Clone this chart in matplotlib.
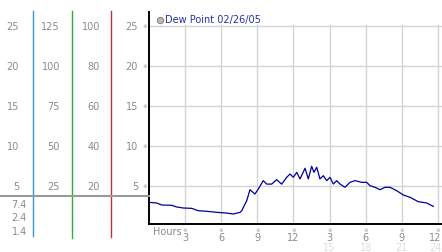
import matplotlib
matplotlib.use("Agg")
import matplotlib.pyplot as plt
from matplotlib.lines import Line2D

# ---- data ----
hours = [0.0, 0.64, 1.05, 1.89, 2.3, 2.85, 3.55, 4.1, 4.79, 5.62, 6.45, 7.0, 7.56, 7.7,
         8.11, 8.39, 8.8, 9.08, 9.49, 9.78, 10.19, 10.6, 11.02, 11.44, 11.71, 11.99,
         12.27, 12.54, 12.96, 13.23, 13.51, 13.7, 13.93, 14.2, 14.48, 14.76, 15.03,
         15.31, 15.59, 15.86, 16.28, 16.69, 17.11, 17.67, 18.08, 18.36, 18.77, 19.19,
         19.6, 20.02, 20.57, 21.12, 21.68, 22.37, 23.06, 23.61]
dew = [2.92, 2.84, 2.59, 2.55, 2.34, 2.21, 2.17, 1.87, 1.8, 1.67, 1.58, 1.46, 1.67, 1.87,
       3.1, 4.5, 3.96, 4.59, 5.63, 5.2, 5.2, 5.75, 5.2, 6.05, 6.46, 6.05,
       6.67, 5.84, 7.18, 5.84, 7.43, 6.67, 7.3, 5.84, 6.25, 5.63, 6.05,
       5.21, 5.63, 5.21, 4.8, 5.42, 5.63, 5.42, 5.42, 5.0, 4.8, 4.5,
       4.8, 4.8, 4.38, 3.84, 3.55, 3.0, 2.84, 2.42]
legend_label = "Dew Point 02/26/05"
y_ticks = [5, 10, 15, 20, 25]
x_ticks = [3, 6, 9, 12, 15, 18, 21, 24]
x_labels_top = ["3", "6", "9", "12", "3", "6", "9", "12"]
x_labels_bot = ["15", "18", "21", "24"]
col1 = ["5", "10", "15", "20", "25"]
col2 = ["25", "50", "75", "100", "125"]
col3 = ["20", "40", "60", "80", "100"]
col4 = ["5", "10", "15", "20", "25"]
extra = ["7.4", "2.4", "1.4"]

W, H = 442, 253
fig = plt.figure(figsize=(W / 100, H / 100), dpi=100)
fig.patch.set_facecolor("white")

def fx(px):
    return px / W

def fy(py):
    return 1 - py / H

# main axes
ax = fig.add_axes([fx(149), fy(224.5), fx(442) - fx(149), fy(13) - fy(224.5)])
ax.set_xlim(0, (442 - 149) / 12.04)
ax.set_ylim((226.7 - 224.5) / 8, (226.7 - 13) / 8)
for s in ["top", "right"]:
    ax.spines[s].set_visible(False)
ax.spines["left"].set_color("black")
ax.spines["bottom"].set_color("black")
ax.spines["left"].set_linewidth(1.4)
ax.spines["bottom"].set_linewidth(1.4)
ax.set_xticks([])
ax.set_yticks([])
gc = "#d4d4d4"
for v in y_ticks:
    ax.axhline(v, color=gc, lw=1.0, zorder=1)
for h in x_ticks:
    ax.vlines(h, 0, 25.25, color=gc, lw=1.0, zorder=1)
ax.plot(hours, dew, color="#000099", lw=0.9, zorder=3)

tc = "#8a8a8a"
fs = 7
# y tick marks and labels
for i, v in enumerate(y_ticks):
    py = 226.7 - v * 8
    fig.text(fx(138), fy(py), col4[i], color=tc, fontsize=fs, ha="right", va="center")
    fig.text(fx(144.5), fy(py), "\u203b", color="#999999", fontsize=4, ha="center", va="center")
    fig.text(fx(19), fy(py), col1[i], color=tc, fontsize=fs, ha="right", va="center")
    fig.text(fx(60), fy(py), col2[i], color=tc, fontsize=fs, ha="right", va="center")
    fig.text(fx(100), fy(py), col3[i], color=tc, fontsize=fs, ha="right", va="center")

for lab, py in zip(extra, [205, 218, 232]):
    fig.text(fx(27), fy(py), lab, color=tc, fontsize=fs, ha="right", va="center")

# coloured vertical axes lines on the left
fig.add_artist(Line2D([fx(33), fx(33)], [fy(12), fy(237)], color="#3399cc", lw=1.0))
fig.add_artist(Line2D([fx(72), fx(72)], [fy(12), fy(239)], color="#33aa33", lw=1.0))
fig.add_artist(Line2D([fx(111), fx(111)], [fy(12), fy(238)], color="#bb3333", lw=1.0))
fig.add_artist(Line2D([fx(0), fx(149)], [fy(196.5), fy(196.5)], color="#999999", lw=1.5))

# x labels
fig.text(fx(153), fy(232), "Hours", color=tc, fontsize=fs, ha="left", va="center")
for i, h in enumerate(x_ticks):
    px = 149 + h * 12.04
    fig.text(fx(px), fy(230.5), "\u203b", color="#999999", fontsize=4, ha="center", va="center")
    if h == 24:
        fig.text(fx(441.5), fy(238.5), x_labels_top[i], color=tc, fontsize=fs, ha="right", va="center")
    else:
        fig.text(fx(px), fy(238.5), x_labels_top[i], color=tc, fontsize=fs, ha="center", va="center")
for i, h in enumerate(x_ticks[4:]):
    px = 149 + h * 12.04
    if h == 24:
        fig.text(fx(441.5), fy(248.5), x_labels_bot[i], color="#dddddd", fontsize=fs, ha="right", va="center")
    else:
        fig.text(fx(px), fy(248.5), x_labels_bot[i], color="#dddddd", fontsize=fs, ha="center", va="center")

# legend
fig.add_artist(Line2D([fx(160)], [fy(20.5)], marker="o", markersize=4.5,
                      markerfacecolor="#bbbbbb", markeredgecolor="#888888", markeredgewidth=0.8))
fig.text(fx(165), fy(20.5), legend_label, color="#2233aa", fontsize=7, ha="left", va="center")

fig.savefig("out.png", dpi=100, facecolor="white")
